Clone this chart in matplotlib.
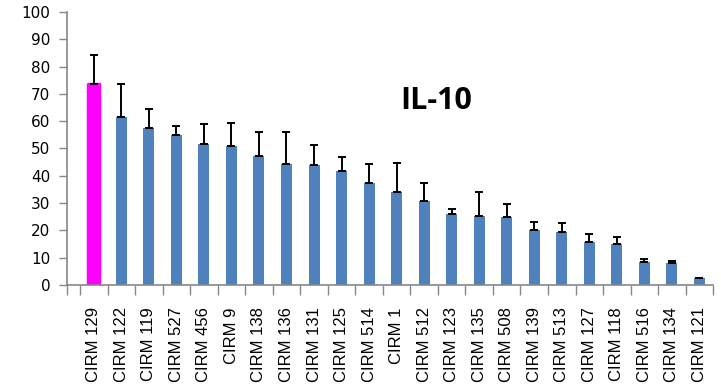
import numpy as np
import matplotlib.pyplot as plt

strains = ['CIRM 129', 'CIRM 122', 'CIRM 119', 'CIRM 527', 'CIRM 456', 'CIRM 9',
           'CIRM 138', 'CIRM 136', 'CIRM 131', 'CIRM 125', 'CIRM 514', 'CIRM 1',
           'CIRM 512', 'CIRM 123', 'CIRM 135', 'CIRM 508', 'CIRM 139', 'CIRM 513',
           'CIRM 127', 'CIRM 118', 'CIRM 516', 'CIRM 134', 'CIRM 121']
il10 = [73.8, 61.6, 57.4, 54.8, 51.5, 50.9, 47.1, 44.4, 43.9, 41.6, 37.3, 34.0,
        30.7, 25.9, 25.4, 24.9, 20.0, 19.4, 15.6, 15.0, 8.5, 8.0, 2.6]
il10_sd = [10.6, 11.9, 6.9, 3.5, 7.4, 8.5, 8.9, 11.6, 7.3, 5.4, 7.0, 10.8,
           6.5, 2.0, 8.5, 4.6, 3.2, 3.4, 3.2, 2.6, 1.0, 0.9, 0.1]

x = np.arange(len(strains))
colors = ['#FF00FF'] + ['#4F81BD'] * (len(strains) - 1)

fig = plt.figure(figsize=(7.21, 3.87), dpi=100)
ax = fig.add_axes([0.0929, 0.2636, 0.8963, 0.7054])

bars = ax.bar(x, il10, width=0.4, color=colors, zorder=2)
# highlighted strain has a rounded outline
bars[0].set_edgecolor('#FF00FF')
bars[0].set_linewidth(2.5)
bars[0].set_joinstyle('round')

ax.errorbar(x, il10, yerr=[np.zeros(len(il10)), il10_sd], fmt='none',
            ecolor='black', elinewidth=1.4, capsize=3, capthick=1.4, zorder=3)

ax.set_ylim(0, 100)
ax.set_yticks(np.arange(0, 101, 10))
ax.set_xlim(-0.973, len(strains) - 0.5)

edges = np.concatenate([[-0.973], np.arange(-0.5, len(strains), 1.0)])
ax.set_xticks(edges)
ax.set_xticklabels([])
ax.set_xticks(x, minor=True)
ax.set_xticklabels(strains, minor=True, rotation=90, fontsize=12,
                   family='Liberation Sans')
ax.tick_params(axis='x', which='minor', length=0, pad=16)
ax.tick_params(axis='x', which='major', length=7, color='#888888', width=1)
ax.tick_params(axis='y', length=6, color='#888888', width=1, labelsize=11,
               pad=6)

for s in ['top', 'right']:
    ax.spines[s].set_visible(False)
for s in ['left', 'bottom']:
    ax.spines[s].set_color('#888888')
    ax.spines[s].set_linewidth(1.2)

ax.text(12.45, 67.5, 'IL-10', fontsize=22, fontweight='bold',
        family='Open Sans', ha='center', va='center')

fig.savefig('out.png', dpi=100)
